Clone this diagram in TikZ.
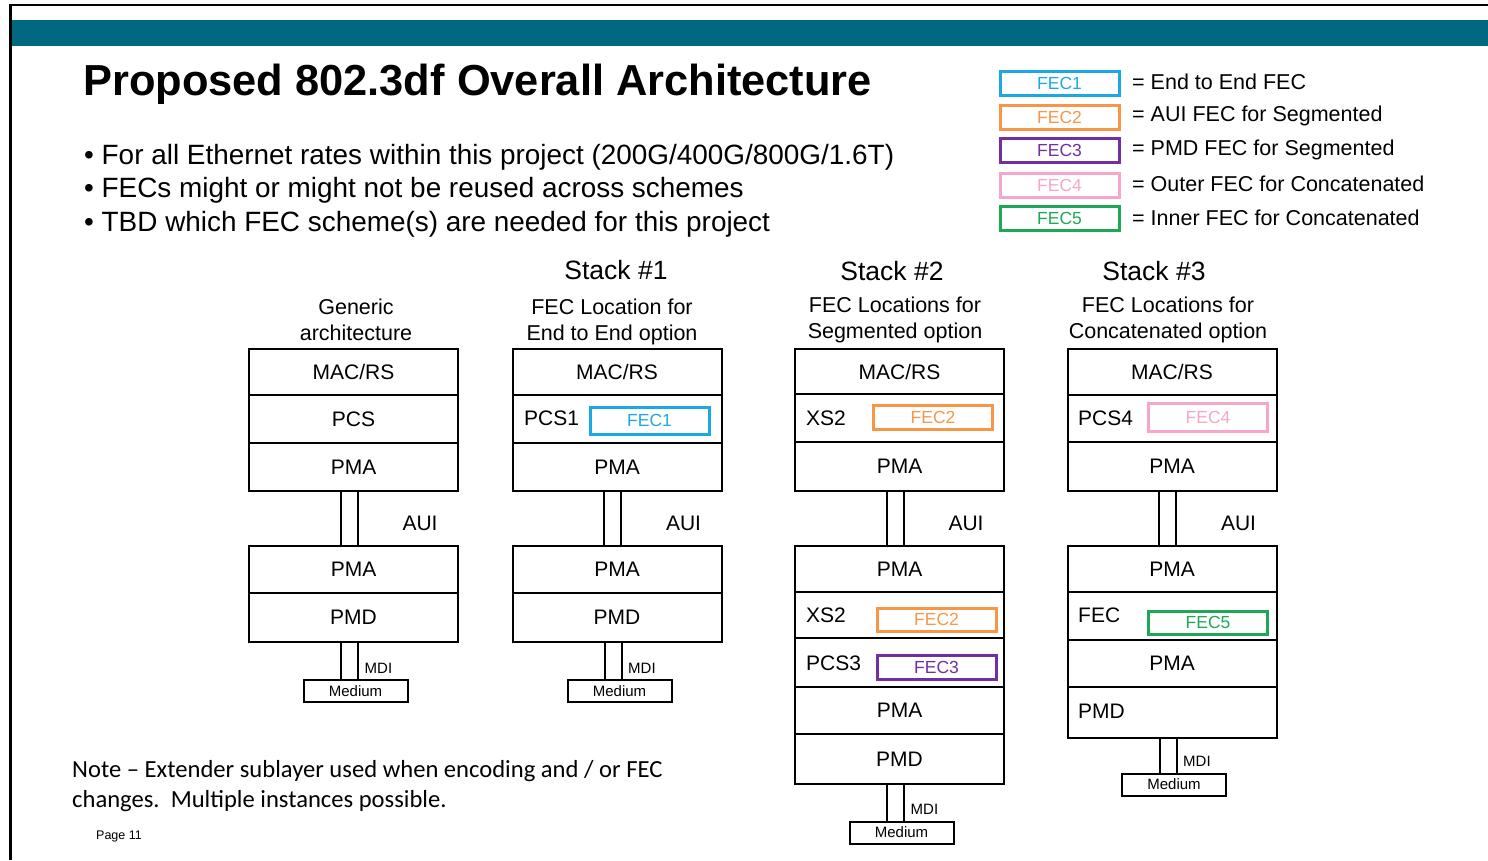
\documentclass[tikz,border=0pt]{standalone}
\usepackage{fontspec}
\setmainfont{Liberation Sans}
\newfontfamily\notefont{Carlito}
\definecolor{teal1}{RGB}{0,104,128}
\definecolor{fcA}{RGB}{28,168,226}
\definecolor{fcB}{RGB}{247,150,70}
\definecolor{fcC}{RGB}{112,48,160}
\definecolor{fcD}{RGB}{245,166,203}
\definecolor{fcE}{RGB}{30,168,85}
\newcommand\fsz[1]{\fontsize{#1}{#1}\selectfont}
\tikzset{
  layer/.style={draw, line width=2pt, minimum width=209pt, inner sep=0pt, font=\fsz{21}},
  ltxt/.style={anchor=west, inner sep=0pt, font=\fsz{21}},
  fecbox/.style={draw=#1, text=#1, line width=3pt, inner sep=0pt, minimum width=119pt, font=\fsz{17.5}},
  legbox/.style={draw=#1, text=#1, line width=3pt, inner sep=0pt, minimum width=119pt, minimum height=24pt, font=\fsz{17.5}},
  legtxt/.style={anchor=west, inner sep=0pt, font=\fsz{21.5}},
  conn/.style={line width=2pt},
  medbox/.style={draw, line width=2pt, minimum width=104pt, minimum height=22pt, inner sep=0pt, font=\fsz{15}},
  smalltxt/.style={anchor=west, inner sep=0pt, font=\fsz{15}},
  auitxt/.style={inner sep=0pt, font=\fsz{21}},
  headtxt/.style={inner sep=0pt, font=\fsz{26.5}},
  subtxt/.style={inner sep=0pt, align=center, font=\fontsize{21.5}{26}\selectfont},
  bullet/.style={anchor=west, inner sep=0pt, font=\fsz{27.9}},
}
% \lay{name}{xcenter}{ytop}{ybottom}{text}
\newcommand\lay[5]{\node[layer, minimum height={(#4-#3)*1pt}] (#1) at (#2,{(#3+#4)/2}) {#5};}
\begin{document}
\begin{tikzpicture}[x=1pt,y=-1pt]
\useasboundingbox (0,0) rectangle (1488,860);
% frame
\fill[teal1] (11,20) rectangle (1488,46);
\draw[line width=1.5pt] (10,5) -- (1488,5);
\draw[line width=3pt] (10,4.25) -- (10,860);
% title
\node[anchor=base west, inner sep=0pt, font=\bfseries\fsz{43.4}] (title) at (83,95) {Proposed 802.3df Overall Architecture};
\node[bullet] (b1) at (84,157) {\textbullet\ For all Ethernet rates within this project (200G/400G/800G/1.6T)};
\node[bullet] (b2) at (84,190.5) {\textbullet\ FECs might or might not be reused across schemes};
\node[bullet] (b3) at (84,224) {\textbullet\ TBD which FEC scheme(s) are needed for this project};
% legend
\node[legbox=fcA] (lg1) at (1059.5,83.5) {FEC1};
\node[legbox=fcB] (lg2) at (1059.5,117) {FEC2};
\node[legbox=fcC] (lg3) at (1059.5,150.5) {FEC3};
\node[legbox=fcD] (lg4) at (1059.5,185) {FEC4};
\node[legbox=fcE] (lg5) at (1059.5,218.5) {FEC5};
\node[legtxt] (lt1) at (1132,82) {= End to End FEC};
\node[legtxt] (lt2) at (1132,116) {= AUI FEC for Segmented};
\node[legtxt] (lt3) at (1132,150) {= PMD FEC for Segmented};
\node[legtxt] (lt4) at (1132,184) {= Outer FEC for Concatenated};
\node[legtxt] (lt5) at (1132,218) {= Inner FEC for Concatenated};
% headings
\node[headtxt] (h1) at (616,270) {Stack \#1};
\node[headtxt] (h2) at (892,271) {Stack \#2};
\node[headtxt] (h3) at (1154,271) {Stack \#3};
\node[subtxt] (s0t) at (356,320) {Generic\\architecture};
\node[subtxt] (s1t) at (612,322) {FEC Location for\\End to End option};
\node[subtxt] (s2t) at (895,320) {FEC Locations for\\Segmented option};
\node[subtxt] (s3t) at (1168,320) {FEC Locations for\\Concatenated option};
% ---------- stack 0
\lay{a1}{353.5}{349}{395}{MAC/RS}
\lay{a2}{353.5}{395}{443}{PCS}
\lay{a3}{353.5}{443}{491}{PMA}
\lay{a4}{353.5}{546}{593}{PMA}
\lay{a5}{353.5}{593}{642}{PMD}
\node[medbox] (am) at (355.5,691) {Medium};
% ---------- stack 1
\lay{b1l}{617}{349}{395}{MAC/RS}
\lay{b2l}{617}{395}{443}{}
\lay{b3l}{617}{443}{491}{PMA}
\lay{b4l}{617}{546}{593}{PMA}
\lay{b5l}{617}{593}{642}{PMD}
\node[ltxt] (b2t) at (524,418) {PCS1};
\node[fecbox=fcA, minimum height=27pt] (b2f) at (649.5,420.5) {FEC1};
\node[medbox] (bm) at (619.5,691) {Medium};
% ---------- stack 2
\lay{c1}{899.5}{349}{394}{MAC/RS}
\lay{c2}{899.5}{394}{442}{}
\lay{c3}{899.5}{442}{491}{PMA}
\lay{c4}{899.5}{546}{592}{PMA}
\lay{c5}{899.5}{592}{638}{}
\lay{c6}{899.5}{638}{687}{}
\lay{c7}{899.5}{687}{734}{PMA}
\lay{c8}{899.5}{734}{784}{PMD}
\node[ltxt] (c2t) at (806,418) {XS2};
\node[fecbox=fcB, minimum height=24pt] (c2f) at (933,417) {FEC2};
\node[ltxt] (c5t) at (806,615) {XS2};
\node[fecbox=fcB, minimum height=23pt] (c5f) at (936.5,619.5) {FEC2};
\node[ltxt] (c6t) at (806,663) {PCS3};
\node[fecbox=fcC, minimum height=24pt] (c6f) at (936.5,667) {FEC3};
\node[medbox] (cm) at (901.5,832.5) {Medium};
% ---------- stack 3
\lay{d1}{1172}{349}{395}{MAC/RS}
\lay{d2}{1172}{395}{442}{}
\lay{d3}{1172}{442}{491}{PMA}
\lay{d4}{1172}{546}{592}{PMA}
\lay{d5}{1172}{592}{640}{}
\lay{d6}{1172}{640}{687}{PMA}
\lay{d7}{1172}{687}{738}{}
\node[ltxt] (d2t) at (1078,418) {PCS4};
\node[fecbox=fcD, minimum height=28pt] (d2f) at (1208,417) {FEC4};
\node[ltxt] (d5t) at (1078,615) {FEC};
\node[fecbox=fcE, minimum height=23pt] (d5f) at (1208,622.5) {FEC5};
\node[ltxt] (d7t) at (1078,711) {PMD};
\node[medbox] (dm) at (1174,784.5) {Medium};
% ---------- connectors
\foreach \u/\l/\m/\lo in {a3/a4/am/a5, b3l/b4l/bm/b5l, c3/c4/cm/c8, d3/d4/dm/d7}{
  \draw[conn] ([xshift=-13pt]\u.south) -- ([xshift=-13pt]\l.north);
  \draw[conn] ([xshift=4pt]\u.south) -- ([xshift=4pt]\l.north);
  \draw[conn] ([xshift=-12.5pt]\lo.south) -- ([xshift=-12.5pt]\lo.south |- \m.north);
  \draw[conn] ([xshift=4.5pt]\lo.south) -- ([xshift=4.5pt]\lo.south |- \m.north);
  \node[auitxt] at ([xshift=66.5pt, yshift=-31pt]\u.south) {AUI};
  \node[smalltxt] at ([xshift=11pt, yshift=11pt]\lo.south |- \m.north) {MDI};
}
% note
\node[anchor=west, inner sep=0pt, align=left, font=\notefont\fontsize{24.6}{30}\selectfont] (note) at (72,786.5) {Note – Extender sublayer used when encoding and / or FEC\\changes.\ \ Multiple instances possible.};
\node[anchor=west, inner sep=0pt, font=\fsz{12.5}] (page) at (96,836) {Page 11};
\end{tikzpicture}
\end{document}
